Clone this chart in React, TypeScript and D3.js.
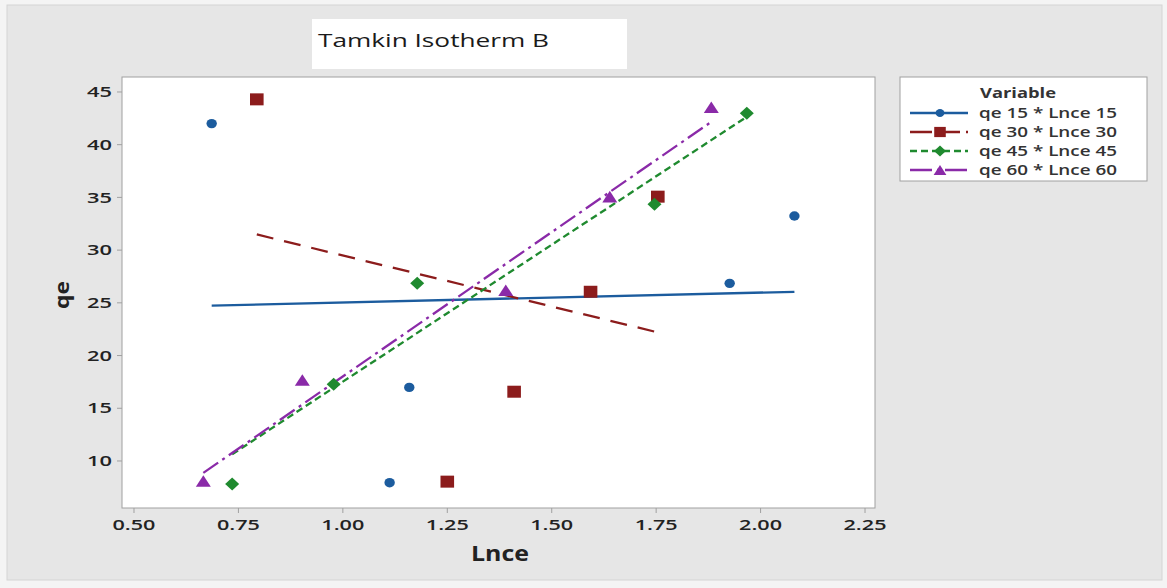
import React from "react";
import * as d3 from "d3";

const W = 1167;
const H = 588;

const chartTitle = "Tamkin Isotherm B";
const xLabel = "Lnce";
const yLabel = "qe";
const legendTitle = "Variable";

const xTicks = [0.5, 0.75, 1.0, 1.25, 1.5, 1.75, 2.0, 2.25];
const yTicks = [10, 15, 20, 25, 30, 35, 40, 45];

const seriesNames = ["qe 15 * Lnce 15", "qe 30 * Lnce 30", "qe 45 * Lnce 45", "qe 60 * Lnce 60"];

const lnce15 = [0.686, 1.112, 1.159, 1.926, 2.081];
const qe15 = [42.0, 7.94, 16.98, 26.85, 33.24];

const lnce30 = [0.794, 1.25, 1.41, 1.593, 1.754];
const qe30 = [44.3, 8.04, 16.57, 26.05, 35.07];

const lnce45 = [0.735, 0.978, 1.178, 1.746, 1.967];
const qe45 = [7.82, 17.27, 26.85, 34.35, 42.98];

const lnce60 = [0.666, 0.903, 1.39, 1.639, 1.882];
const qe60 = [8.1, 17.68, 26.2, 35.07, 43.55];

const colors = ["#1c5c9e", "#8c1c1c", "#1f8a2f", "#8a2aa8"];
const dashes = ["none", "17,11", "7,4", "18,5,3,5"];
const legendDashes = ["none", "22,6", "7,4", "22,5,3,5"];
const markerKinds = ["circle", "square", "diamond", "triangle"];

const allX = [lnce15, lnce30, lnce45, lnce60];
const allY = [qe15, qe30, qe45, qe60];

function markerPath(kind: string, s: number) {
  if (kind === "circle") {
    const rx = 5.2 * s, ry = 4.7 * s;
    return `M${-rx},0A${rx},${ry} 0 1,0 ${rx},0A${rx},${ry} 0 1,0 ${-rx},0Z`;
  }
  if (kind === "square") {
    const hw = 6.8 * s, hh = 6 * s;
    return `M${-hw},${-hh}H${hw}V${hh}H${-hw}Z`;
  }
  if (kind === "diamond") {
    const hw = 7 * s, hh = 6.5 * s;
    return `M0,${-hh}L${hw},0L0,${hh}L${-hw},0Z`;
  }
  const hw = 7.5 * s, hh = 5.8 * s;
  return `M0,${-hh}L${hw},${hh}L${-hw},${hh}Z`;
}

function fit(xs: number[], ys: number[]) {
  const mx = d3.mean(xs)!;
  const my = d3.mean(ys)!;
  let sxy = 0;
  let sxx = 0;
  xs.forEach((x, i) => {
    sxy += (x - mx) * (ys[i] - my);
    sxx += (x - mx) * (x - mx);
  });
  const b = sxy / sxx;
  const a = my - b * mx;
  const [x0, x1] = d3.extent(xs) as [number, number];
  return [
    [x0, a + b * x0],
    [x1, a + b * x1],
  ] as [number, number][];
}

export default function App() {
  const pl = 122, pr = 875, pt = 77, pb = 508;
  const x = d3.scaleLinear().domain([0.4713, 2.2739]).range([pl, pr]);
  const y = d3.scaleLinear().domain([5.54, 46.42]).range([pb, pt]);
  const line = d3.line<[number, number]>().x((d) => x(d[0])).y((d) => y(d[1]));
  const font = "'Open Sans', 'Noto Sans', sans-serif";

  return (
    <svg
      width={W}
      height={H}
      style={{ position: "absolute", left: 0, top: 0, fontFamily: font }}
    >
      <rect x={0} y={0} width={W} height={H} fill="#f4f4f4" />
      <rect x={7} y={5} width={1155} height={575} fill="#e6e6e6" stroke="#d4d4d4" />
      {/* title box */}
      <rect x={312} y={19} width={315} height={50} fill="#ffffff" />
      <text
        x={318}
        y={47}
        fontSize={19}
        fill="#1a1a1a"
        textLength={231}
        lengthAdjust="spacingAndGlyphs"
      >
        {chartTitle}
      </text>

      {/* plot area */}
      <rect x={pl} y={pt} width={pr - pl} height={pb - pt} fill="#ffffff" stroke="#a0a0a0" />

      {/* y ticks */}
      {yTicks.map((t) => (
        <g key={"y" + t}>
          <line x1={pl - 5} x2={pl} y1={y(t)} y2={y(t)} stroke="#a0a0a0" />
          <text
            x={112 - 25}
            y={y(t)}
            dy="0.36em"
            fontSize={14.5}
            fontWeight={600}
            fill="#222"
            textLength={25}
            lengthAdjust="spacingAndGlyphs"
          >
            {t}
          </text>
        </g>
      ))}
      {/* x ticks */}
      {xTicks.map((t) => (
        <g key={"x" + t}>
          <line x1={x(t)} x2={x(t)} y1={pb} y2={pb + 5} stroke="#a0a0a0" />
          <text
            x={x(t) - 21.5}
            y={525}
            dy="0.36em"
            fontSize={15}
            fontWeight={600}
            fill="#222"
            textLength={43}
            lengthAdjust="spacingAndGlyphs"
          >
            {t.toFixed(2)}
          </text>
        </g>
      ))}
      <text
        x={500 - 29}
        y={553}
        dy="0.36em"
        fontSize={21}
        fontWeight="bold"
        fill="#222"
        textLength={58}
        lengthAdjust="spacingAndGlyphs"
      >
        {xLabel}
      </text>
      <text
        transform={`translate(62,295) rotate(-90)`}
        x={-14}
        dy="0.36em"
        fontSize={20}
        fontWeight="bold"
        fill="#222"
        textLength={28}
        lengthAdjust="spacingAndGlyphs"
      >
        {yLabel}
      </text>

      {/* fit lines */}
      {allX.map((xs, i) => (
        <path
          key={"l" + i}
          d={line(fit(xs, allY[i])) || ""}
          fill="none"
          stroke={colors[i]}
          strokeWidth={2.3}
          strokeDasharray={dashes[i]}
        />
      ))}
      {/* points */}
      {allX.map((xs, i) =>
        xs.map((xv, j) => (
          <path
            key={"p" + i + "-" + j}
            d={markerPath(markerKinds[i], 1)}
            transform={`translate(${x(xv)},${y(allY[i][j])})`}
            fill={colors[i]}
          />
        ))
      )}

      {/* legend */}
      <rect x={900} y={77} width={247} height={104} fill="#ffffff" stroke="#a0a0a0" />
      <text
        x={1018 - 38}
        y={93}
        dy="0.36em"
        fontSize={13.5}
        fontWeight="bold"
        fill="#333"
        textLength={76}
        lengthAdjust="spacingAndGlyphs"
      >
        {legendTitle}
      </text>
      {seriesNames.map((n, i) => {
        const ly = 113 + i * 19;
        return (
          <g key={"lg" + i}>
            <line
              x1={910}
              x2={968}
              y1={ly}
              y2={ly}
              stroke={colors[i]}
              strokeWidth={2.3}
              strokeDasharray={legendDashes[i]}
            />
            <path
              d={markerPath(markerKinds[i], 0.85)}
              transform={`translate(940,${ly})`}
              fill={colors[i]}
            />
            <text
              x={979}
              y={ly}
              dy="0.36em"
              fontSize={13.5}
              fontWeight={600}
              fill="#333"
              textLength={138}
              lengthAdjust="spacingAndGlyphs"
            >
              {n}
            </text>
          </g>
        );
      })}
    </svg>
  );
}
